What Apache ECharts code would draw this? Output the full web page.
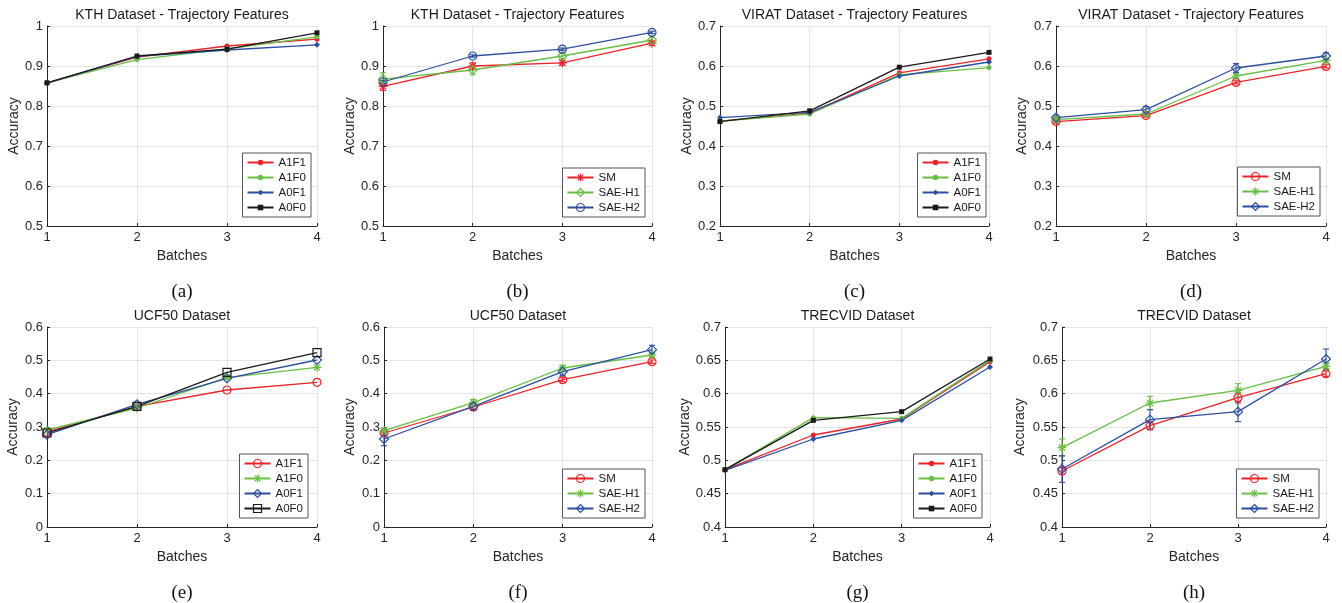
<!DOCTYPE html>
<html>
<head>
<meta charset="utf-8">
<script src="https://cdn.jsdelivr.net/npm/echarts@6/dist/echarts.min.js"></script>
<style>
html, body { margin: 0; padding: 0; background: #fff; }
#chart { width: 1342px; height: 603px; }
</style>
</head>
<body>
<div id="chart"></div>
<script>
const batches = [1, 2, 3, 4]

// y axis ranges: [min, max, step]
const kthAxis = [0.5, 1, 0.1]
const viratAxis = [0.2, 0.7, 0.1]
const ucfAxis = [0, 0.6, 0.1]
const trecAxis = [0.4, 0.7, 0.05]

// (a) KTH - trajectory features
const kthTrajA1F1 = [0.858, 0.922, 0.950, 0.967]
const kthTrajA1F0 = [0.858, 0.916, 0.943, 0.973]
const kthTrajA0F1 = [0.857, 0.924, 0.940, 0.953]
const kthTrajA0F0 = [0.858, 0.925, 0.942, 0.983]

// (b)
const kthSM = [0.849, 0.900, 0.908, 0.957]
const kthSMErr = [0.010, 0.008, 0.006, 0.005]
const kthH1 = [0.867, 0.890, 0.925, 0.965]
const kthH1Err = [0.016, 0.012, 0.006, 0.006]
const kthH2 = [0.860, 0.925, 0.942, 0.984]
const kthH2Err = [0.004, 0.003, 0.003, 0.003]

// (c) VIRAT - trajectory features
const viratA1F1 = [0.462, 0.482, 0.583, 0.618]
const viratA1F0 = [0.462, 0.480, 0.578, 0.596]
const viratA0F1 = [0.471, 0.484, 0.575, 0.610]
const viratA0F0 = [0.461, 0.488, 0.597, 0.634]

// (d)
const viratSM = [0.461, 0.476, 0.559, 0.599]
const viratSMErr = [0.005, 0.004, 0.004, 0.004]
const viratH1 = [0.466, 0.480, 0.575, 0.614]
const viratH1Err = [0.008, 0.005, 0.006, 0.005]
const viratH2 = [0.471, 0.491, 0.595, 0.625]
const viratH2Err = [0.006, 0.008, 0.011, 0.008]

// (e) UCF50
const ucfA1F1 = [0.285, 0.362, 0.411, 0.434]
const ucfA1F0 = [0.291, 0.357, 0.448, 0.479]
const ucfA0F1 = [0.277, 0.368, 0.446, 0.501]
const ucfA0F0 = [0.282, 0.362, 0.464, 0.523]

// (f)
const ucfSM = [0.282, 0.360, 0.442, 0.496]
const ucfSMErr = [0.006, 0.007, 0.006, 0.005]
const ucfH1 = [0.289, 0.373, 0.477, 0.516]
const ucfH1Err = [0.008, 0.010, 0.008, 0.006]
const ucfH2 = [0.264, 0.362, 0.466, 0.532]
const ucfH2Err = [0.020, 0.012, 0.012, 0.013]

// (g) TRECVID
const trecA1F1 = [0.486, 0.538, 0.562, 0.648]
const trecA1F0 = [0.486, 0.564, 0.563, 0.650]
const trecA0F1 = [0.485, 0.532, 0.560, 0.640]
const trecA0F0 = [0.486, 0.560, 0.573, 0.652]

// (h)
const trecSM = [0.484, 0.552, 0.594, 0.630]
const trecSMErr = [0.005, 0.006, 0.008, 0.004]
const trecH1 = [0.519, 0.586, 0.605, 0.641]
const trecH1Err = [0.013, 0.010, 0.010, 0.005]
const trecH2 = [0.487, 0.561, 0.573, 0.652]
const trecH2Err = [0.020, 0.015, 0.015, 0.015]

const RED = '#e8232a'
const GREEN = '#68bd45'
const BLUE = '#2d4f9e'
const BLACK = '#1a1a1a'
const SANS = 'Liberation Sans'
const STAR = 'path://M5,0L5,10M0,5L10,5M1.5,1.5L8.5,8.5M1.5,8.5L8.5,1.5'

const markers = {
	dot: { symbol: 'circle', size: 5, open: false },
	fdiamond: { symbol: 'diamond', size: 6, open: false },
	fsquare: { symbol: 'rect', size: 5, open: false },
	circle: { symbol: 'circle', size: 8, open: true },
	diamond: { symbol: 'diamond', size: 9, open: true },
	square: { symbol: 'rect', size: 8, open: true },
	star: { symbol: STAR, size: 9, open: true }
}

const panels = [
	{
		key: 'a', title: 'KTH Dataset - Trajectory Features', caption: '(a)',
		rect: [47, 26, 270, 200], axis: kthAxis, nameGap: 25, legendAt: [1031, 153], iconH: 7,
		lines: [
			['A1F1', kthTrajA1F1, RED, 'dot'],
			['A1F0', kthTrajA1F0, GREEN, 'dot'],
			['A0F1', kthTrajA0F1, BLUE, 'fdiamond'],
			['A0F0', kthTrajA0F0, BLACK, 'fsquare']
		]
	},
	{
		key: 'b', title: 'KTH Dataset - Trajectory Features', caption: '(b)',
		rect: [383, 26, 269, 200], axis: kthAxis, nameGap: 26, legendAt: [697, 168], iconH: 10,
		lines: [
			['SM', kthSM, RED, 'star', kthSMErr],
			['SAE-H1', kthH1, GREEN, 'diamond', kthH1Err],
			['SAE-H2', kthH2, BLUE, 'circle', kthH2Err]
		]
	},
	{
		key: 'c', title: 'VIRAT Dataset - Trajectory Features', caption: '(c)',
		rect: [720, 26, 269, 200], axis: viratAxis, nameGap: 25, legendAt: [356, 153], iconH: 7,
		lines: [
			['A1F1', viratA1F1, RED, 'dot'],
			['A1F0', viratA1F0, GREEN, 'dot'],
			['A0F1', viratA0F1, BLUE, 'fdiamond'],
			['A0F0', viratA0F0, BLACK, 'fsquare']
		]
	},
	{
		key: 'd', title: 'VIRAT Dataset - Trajectory Features', caption: '(d)',
		rect: [1056, 26, 270, 200], axis: viratAxis, nameGap: 27, legendAt: [22, 167], iconH: 10,
		lines: [
			['SM', viratSM, RED, 'circle', viratSMErr],
			['SAE-H1', viratH1, GREEN, 'star', viratH1Err],
			['SAE-H2', viratH2, BLUE, 'diamond', viratH2Err]
		]
	},
	{
		key: 'e', title: 'UCF50 Dataset', caption: '(e)',
		rect: [47, 327, 270, 200], axis: ucfAxis, nameGap: 27, legendAt: [1034, 454], iconH: 10,
		lines: [
			['A1F1', ucfA1F1, RED, 'circle'],
			['A1F0', ucfA1F0, GREEN, 'star'],
			['A0F1', ucfA0F1, BLUE, 'diamond'],
			['A0F0', ucfA0F0, BLACK, 'square']
		]
	},
	{
		key: 'f', title: 'UCF50 Dataset', caption: '(f)',
		rect: [384, 327, 268, 200], axis: ucfAxis, nameGap: 27, legendAt: [697, 469], iconH: 10,
		lines: [
			['SM', ucfSM, RED, 'circle', ucfSMErr],
			['SAE-H1', ucfH1, GREEN, 'star', ucfH1Err],
			['SAE-H2', ucfH2, BLUE, 'diamond', ucfH2Err]
		]
	},
	{
		key: 'g', title: 'TRECVID Dataset', caption: '(g)',
		rect: [725, 327, 265, 200], axis: trecAxis, nameGap: 33, legendAt: [360, 454], iconH: 7,
		lines: [
			['A1F1', trecA1F1, RED, 'dot'],
			['A1F0', trecA1F0, GREEN, 'dot'],
			['A0F1', trecA0F1, BLUE, 'fdiamond'],
			['A0F0', trecA0F0, BLACK, 'fsquare']
		]
	},
	{
		key: 'h', title: 'TRECVID Dataset', caption: '(h)',
		rect: [1062, 327, 264, 200], axis: trecAxis, nameGap: 35, legendAt: [23, 469], iconH: 10,
		lines: [
			['SM', trecSM, RED, 'circle', trecSMErr],
			['SAE-H1', trecH1, GREEN, 'star', trecH1Err],
			['SAE-H2', trecH2, BLUE, 'diamond', trecH2Err]
		]
	}
]

function errorBars(color) {
	return function (params, api) {
		const x = api.value(0)
		const lo = api.coord([x, api.value(1)])
		const hi = api.coord([x, api.value(2)])
		const cap = 3
		const style = { stroke: color, lineWidth: 1.1 }
		return {
			type: 'group',
			children: [
				{ type: 'line', shape: { x1: lo[0], y1: lo[1], x2: hi[0], y2: hi[1] }, style },
				{ type: 'line', shape: { x1: lo[0] - cap, y1: lo[1], x2: lo[0] + cap, y2: lo[1] }, style },
				{ type: 'line', shape: { x1: hi[0] - cap, y1: hi[1], x2: hi[0] + cap, y2: hi[1] }, style }
			]
		}
	}
}

const grid = []
const xAxis = []
const yAxis = []
const title = []
const legend = []
const series = []

panels.forEach((p, i) => {
	const [left, top, width, height] = p.rect
	grid.push({ left, top, width, height })

	xAxis.push({
		type: 'value', gridIndex: i, min: 1, max: 4, interval: 1,
		name: 'Batches', nameLocation: 'middle', nameGap: 23,
		nameTextStyle: { fontFamily: SANS, fontSize: 14, color: '#262626' },
		axisLine: { onZero: false, lineStyle: { color: '#262626', width: 1 } },
		axisTick: { inside: true, length: 3, lineStyle: { color: '#262626' } },
		axisLabel: { margin: 5, fontFamily: SANS, fontSize: 13, color: '#262626' },
		splitLine: { show: true, lineStyle: { color: '#e3e3e3', width: 1 } }
	})

	yAxis.push({
		type: 'value', gridIndex: i, min: p.axis[0], max: p.axis[1], interval: p.axis[2],
		name: 'Accuracy', nameLocation: 'middle', nameGap: p.nameGap,
		nameTextStyle: { fontFamily: SANS, fontSize: 14, color: '#262626' },
		axisLine: { show: true, onZero: false, lineStyle: { color: '#262626', width: 1 } },
		axisTick: { show: true, inside: true, length: 3, lineStyle: { color: '#262626' } },
		axisLabel: { margin: 4, fontFamily: SANS, fontSize: 13, color: '#262626' },
		splitLine: { show: true, lineStyle: { color: '#e3e3e3', width: 1 } }
	})

	title.push({
		text: p.title, left: left + width / 2, top: top - 18, textAlign: 'center', padding: 0,
		textStyle: { fontFamily: SANS, fontSize: 14, fontWeight: 'normal', color: '#1a1a1a' }
	})
	title.push({
		text: p.caption, left: left + width / 2, top: top + 257, textAlign: 'center', padding: 0,
		textStyle: { fontFamily: 'Liberation Serif', fontSize: 19, fontWeight: 'normal', color: '#111' }
	})

	legend.push({
		orient: 'vertical', right: p.legendAt[0], top: p.legendAt[1],
		data: p.lines.map(l => p.key + ':' + l[0]),
		formatter: name => name.split(':')[1],
		backgroundColor: '#fff', borderColor: '#555', borderWidth: 1, borderRadius: 0,
		padding: [3, 5, 3, 4], itemGap: 2, itemWidth: 26, itemHeight: p.iconH,
		itemStyle: { borderWidth: p.iconH > 8 ? 1.2 : 0 },
		selectedMode: false,
		textStyle: { fontFamily: SANS, fontSize: 11.5, lineHeight: 13, color: '#1a1a1a' }
	})

	p.lines.forEach(l => {
		const [name, values, color, mk, err] = l
		const m = markers[mk]
		if (err) {
			series.push({
				type: 'custom', name: p.key + ':' + name + ':err', xAxisIndex: i, yAxisIndex: i,
				data: batches.map((b, k) => [b, values[k] - err[k], values[k] + err[k]]),
				renderItem: errorBars(color), silent: true, z: 2
			})
		}
		series.push({
			type: 'line', name: p.key + ':' + name, xAxisIndex: i, yAxisIndex: i,
			data: batches.map((b, k) => [b, values[k]]),
			symbol: m.symbol, symbolSize: m.size, showSymbol: true, symbolKeepAspect: true,
			lineStyle: { color, width: 1.3 },
			itemStyle: m.open
				? { color: 'none', borderColor: color, borderWidth: 1.2 }
				: { color, borderColor: color, borderWidth: 0 },
			emphasis: { disabled: true },
			silent: true, z: 3
		})
	})
})

const chart = echarts.init(document.getElementById('chart'))
chart.setOption({
	animation: false,
	backgroundColor: '#fff',
	title,
	legend,
	grid,
	xAxis,
	yAxis,
	series
})
</script>
</body>
</html>
